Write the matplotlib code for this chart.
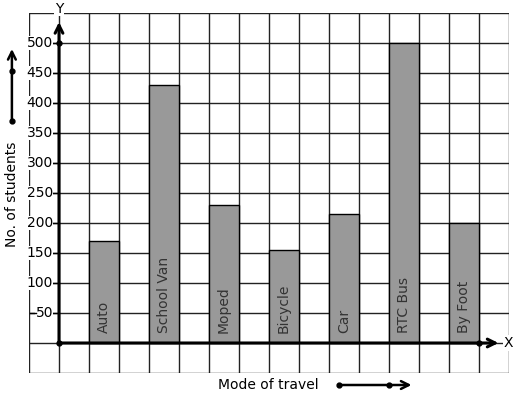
import matplotlib
matplotlib.use("Agg")
import matplotlib.pyplot as plt

# ----- Data -----
modes = ["Auto", "School Van", "Moped", "Bicycle", "Car", "RTC Bus", "By Foot"]
students = [170, 430, 230, 155, 215, 500, 200]
y_ticks = [50, 100, 150, 200, 250, 300, 350, 400, 450, 500]

fig = plt.figure(figsize=(5.17, 3.99), dpi=100)
ax = fig.add_axes([29 / 517, 26 / 399, 480 / 517, 360 / 399])
ax.set_xlim(-1, 15)
ax.set_ylim(-50, 550)
ax.axis("off")

# grid paper
for gx in range(-1, 16):
    ax.plot([gx, gx], [-50, 550], color="#222222", lw=1, zorder=1)
for gy in range(-50, 551, 50):
    ax.plot([-1, 15], [gy, gy], color="#222222", lw=1, zorder=1)

# bars: one cell wide, every other cell
xpos = [1 + 2 * i for i in range(len(modes))]
ax.bar(xpos, students, width=1, align="edge", color="#999999",
       edgecolor="black", lw=1, zorder=2)
for x, name in zip(xpos, modes):
    ax.text(x + 0.5, 16, name, rotation=90, ha="center", va="bottom",
            fontsize=10, color="#333333", zorder=3)

# axes with arrows
ax.annotate("", xy=(0, 535), xytext=(0, 0),
            arrowprops=dict(arrowstyle="->", lw=2.2, color="black",
                            mutation_scale=14, shrinkA=0, shrinkB=0), zorder=4)
ax.annotate("", xy=(14.65, 0), xytext=(0, 0),
            arrowprops=dict(arrowstyle="->", lw=2.2, color="black",
                            mutation_scale=14, shrinkA=0, shrinkB=0), zorder=4)
ax.plot([0, 0, 14], [0, 500, 0], "o", color="black", ms=3.5, zorder=5)
ax.text(0, 557, "Y", ha="center", va="center", fontsize=10,
        bbox=dict(facecolor="white", edgecolor="none", pad=0.5), zorder=6, clip_on=False)
ax.text(14.97, 0, "X", ha="center", va="center", fontsize=10,
        bbox=dict(facecolor="white", edgecolor="none", pad=0.5), zorder=6)

# y tick labels
for t in y_ticks:
    ax.plot([-0.2, 0], [t, t], color="black", lw=1, zorder=3)
    ax.text(-0.2, t, str(t), ha="right", va="center", fontsize=10,
            bbox=dict(facecolor="white", edgecolor="none", pad=0.3), zorder=4)
ax.plot([-0.97, -0.77], [50, 50], color="black", lw=1, zorder=5)

# axis titles with arrows
ax.text(-1.57, 247, "No. of students", rotation=90, ha="center", va="center",
        fontsize=10, clip_on=False)
ax.annotate("", xy=(-1.57, 490), xytext=(-1.57, 370),
            arrowprops=dict(arrowstyle="->", lw=1.8, color="black",
                            mutation_scale=14, shrinkA=0, shrinkB=0),
            annotation_clip=False)
ax.plot([-1.57, -1.57], [370, 453], "o", color="black", ms=3.5, clip_on=False)

ax.text(6.97, -70, "Mode of travel", ha="center", va="center", fontsize=10,
        clip_on=False)
ax.annotate("", xy=(11.75, -70), xytext=(9.33, -70),
            arrowprops=dict(arrowstyle="->", lw=1.8, color="black",
                            mutation_scale=14, shrinkA=0, shrinkB=0),
            annotation_clip=False)
ax.plot([9.33, 11.0], [-70, -70], "o", color="black", ms=3.5, clip_on=False)

fig.savefig("out.png", dpi=100)
